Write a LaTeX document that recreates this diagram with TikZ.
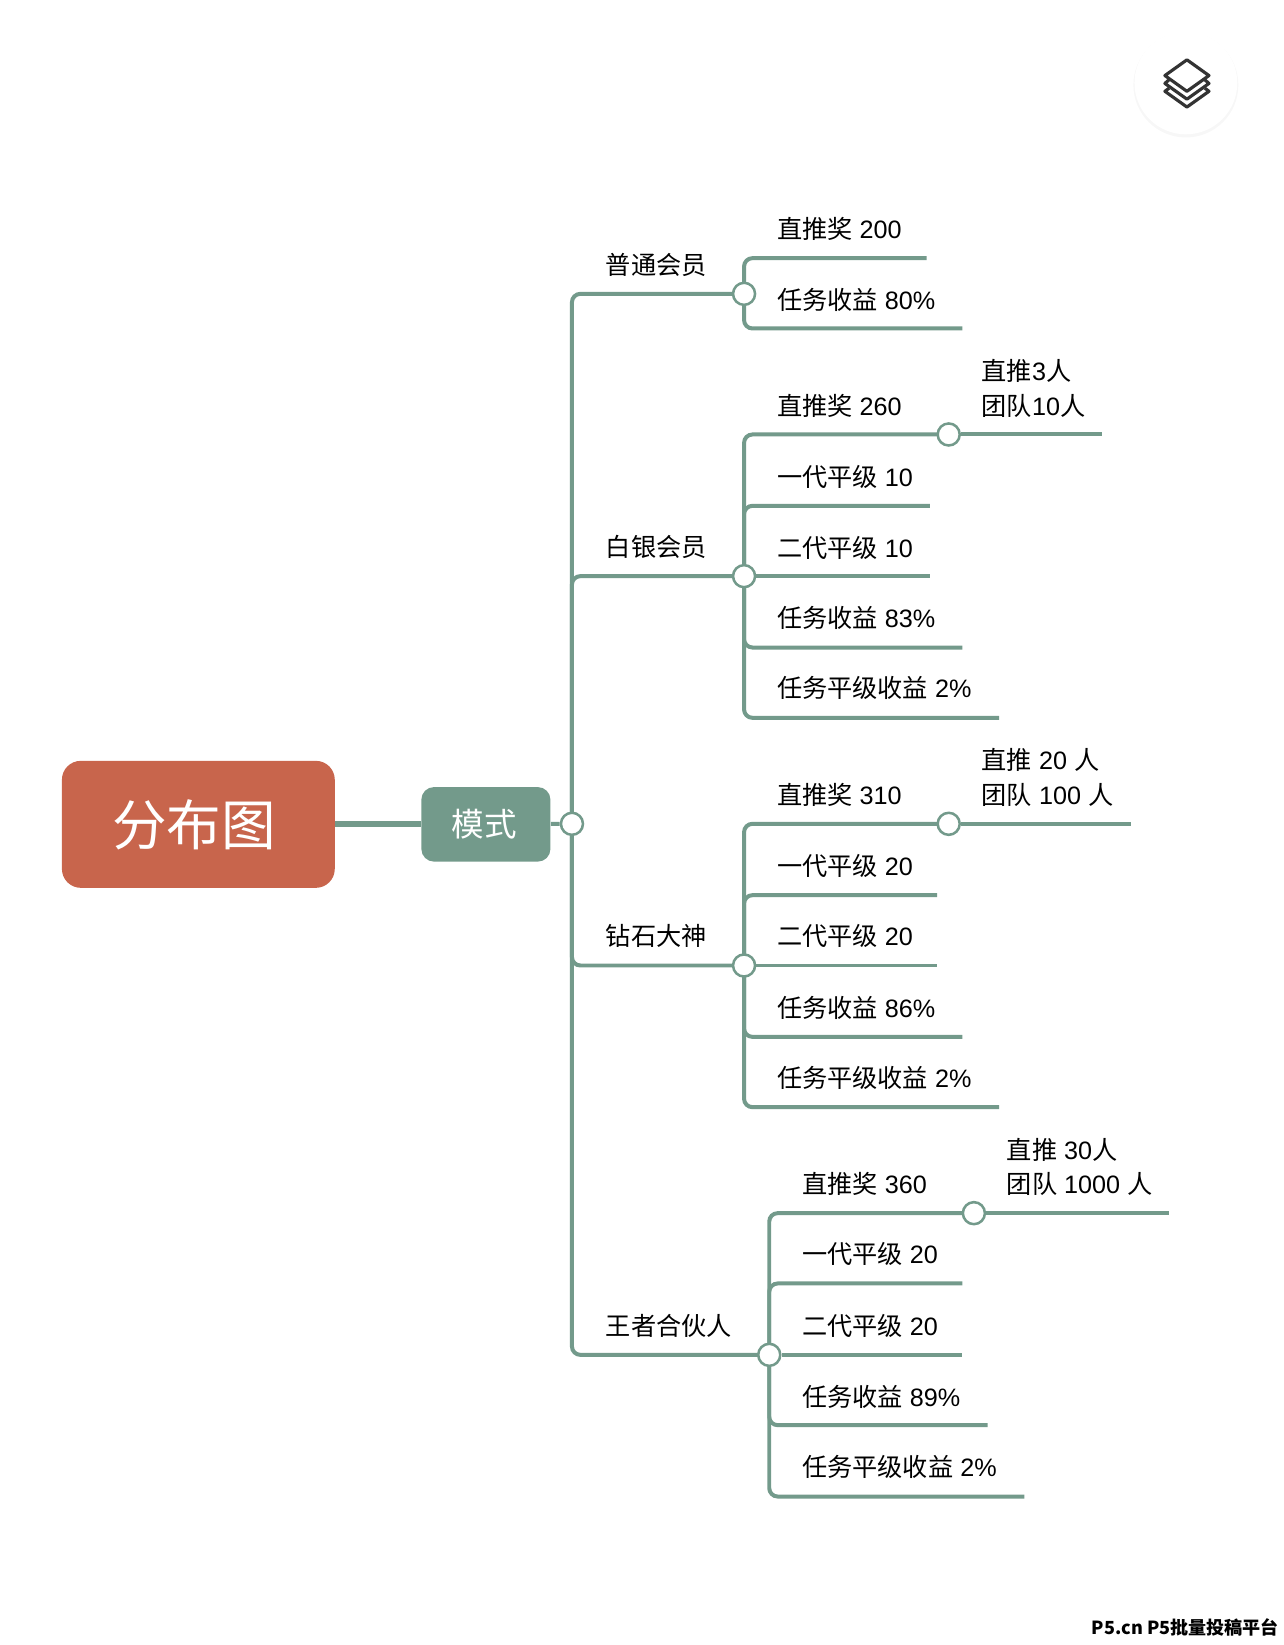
\documentclass[tikz,border=0pt]{standalone}
\usepackage{fontspec}
\setmainfont{Liberation Sans}
\newfontfamily\cjk{Noto Sans CJK SC}
\usetikzlibrary{backgrounds}
\definecolor{linkc}{HTML}{739A8B}
\definecolor{rootc}{HTML}{C8654C}
\newcommand{\cn}[1]{{\cjk #1}}
\tikzset{
 rootbox/.style={fill=rootc,rounded corners=9pt,minimum width=130pt,minimum height=60.5pt,inner sep=0pt,text=white,font=\cjk\fontsize{26}{30}\selectfont},
 modebox/.style={fill=linkc,rounded corners=6pt,minimum width=61.5pt,minimum height=35.5pt,inner sep=0pt,text=white,font=\cjk\fontsize{15.5}{18}\selectfont},
 hub/.style={circle,draw=linkc,line width=1.2pt,fill=white,minimum size=10.5pt,inner sep=0pt},
 link/.style={draw=linkc,line width=1.9pt,rounded corners=4pt},
 thick link/.style={draw=linkc,line width=2.9pt},
 lab/.style={anchor=west,inner sep=0pt,font=\fontsize{12}{14}\selectfont},
 side/.style={anchor=west,inner sep=0pt,align=left,font=\fontsize{12}{16.6}\selectfont},
}
\begin{document}
\begin{tikzpicture}[x=0.5pt,y=-0.5pt]
\useasboundingbox (0,0) rectangle (1223.5,1567.5);
% floating button
\fill[black!3] (1130,81) circle (50);
\fill[white] (1130,79) circle (49);
\draw[line width=1.5pt,black!80,line join=round] (1131,57) -- (1152,72) -- (1131,87) -- (1110,72) -- cycle;
\draw[line width=1.5pt,black!80,line join=round] (1114,76) -- (1110,79.5) -- (1131,94.5) -- (1152,79.5) -- (1148,76);
\draw[line width=1.5pt,black!80,line join=round] (1114,84) -- (1110,87) -- (1131,102) -- (1152,87) -- (1148,84);
% nodes
\node[rootbox] (root) at (189,785.5) {\kern-4pt 分布图};
\node[modebox] (mode) at (463,785.5) {\kern-1.5pt 模式};
\node[hub] (h0) at (545,785) {};
\node[hub] (h1) at (709,280) {};
\node[hub] (h2) at (709,549) {};
\node[hub] (h3) at (709,920) {};
\node[hub] (h4) at (733,1291) {};
\node[hub] (s2) at (904,414) {};
\node[hub] (s3) at (904,785) {};
\node[hub] (s4) at (928,1156) {};
% leaf ends
\coordinate (a1) at (883,246); \coordinate (a2) at (917,313);
\coordinate (b1) at (1050,414); \coordinate (b2) at (886,482); \coordinate (b3) at (886,549); \coordinate (b4) at (917,617); \coordinate (b5) at (952,684);
\coordinate (c1) at (1078,785); \coordinate (c2) at (893,853); \coordinate (c3) at (893,920); \coordinate (c4) at (917,988); \coordinate (c5) at (952,1055);
\coordinate (d1) at (1114,1156); \coordinate (d2) at (917,1223); \coordinate (d3) at (917,1291); \coordinate (d4) at (941,1358); \coordinate (d5) at (976,1426);
% connectors
\begin{pgfonlayer}{background}
\draw[thick link] (root) -- (mode);
\draw[link] (mode) -- (h0);
\foreach \h in {h1,h2,h3,h4} \draw[link] (h0.center) |- (\h.center);
\foreach \e in {a1,a2} \draw[link] (h1.center) |- (\e);
\draw[link] (h2.center) |- (s2.center); \draw[link] (s2) -- (b1);
\foreach \e in {b2,b4,b5} \draw[link] (h2.center) |- (\e);
\draw[link] (h2) -- (b3);
\draw[link] (h3.center) |- (s3.center); \draw[link] (s3) -- (c1);
\foreach \e in {c2,c4,c5} \draw[link] (h3.center) |- (\e);
\draw[link] (h3) -- (c3);
\draw[link] (h4.center) |- (s4.center); \draw[link] (s4) -- (d1);
\foreach \e in {d2,d4,d5} \draw[link] (h4.center) |- (\e);
\draw[link] (h4) -- (d3);
\end{pgfonlayer}
% branch labels
\node[lab] (l1) at (577,252) {\cn{普通会员}};
\node[lab] (l2) at (577,521) {\cn{白银会员}};
\node[lab] (l3) at (577,892) {\cn{钻石大神}};
\node[lab] (l4) at (577,1263) {\cn{王者合伙人}};
% leaf labels
\node[lab] (ta1) at (740,218) {\cn{直推奖} 200};
\node[lab] (ta2) at (740,286) {\cn{任务收益} 80\%};
\node[lab] (tb1) at (740,387) {\cn{直推奖} 260};
\node[lab] (tb2) at (740,454) {\cn{一代平级} 10};
\node[lab] (tb3) at (740,522) {\cn{二代平级} 10};
\node[lab] (tb4) at (740,589) {\cn{任务收益} 83\%};
\node[lab] (tb5) at (740,656) {\cn{任务平级收益} 2\%};
\node[lab] (tc1) at (740,757) {\cn{直推奖} 310};
\node[lab] (tc2) at (740,825) {\cn{一代平级} 20};
\node[lab] (tc3) at (740,892) {\cn{二代平级} 20};
\node[lab] (tc4) at (740,960) {\cn{任务收益} 86\%};
\node[lab] (tc5) at (740,1027) {\cn{任务平级收益} 2\%};
\node[lab] (td1) at (764,1128) {\cn{直推奖} 360};
\node[lab] (td2) at (764,1195) {\cn{一代平级} 20};
\node[lab] (td3) at (764,1263) {\cn{二代平级} 20};
\node[lab] (td4) at (764,1331) {\cn{任务收益} 89\%};
\node[lab] (td5) at (764,1398) {\cn{任务平级收益} 2\%};
\node[side] (sb) at (935,370) {\cn{直推}3\cn{人}\\\cn{团队}10\cn{人}};
\node[side] (sc) at (935,741) {\cn{直推} 20 \cn{人}\\\cn{团队} 100 \cn{人}};
\node[side] (sd) at (959,1112) {\cn{直推} 30\cn{人}\\\cn{团队} 1000 \cn{人}};
% watermark
\node[anchor=east,inner sep=0pt,font=\cjk\bfseries\fontsize{8.6}{10}\selectfont] (wm) at (1219,1551) {P5.cn P5批量投稿平台};
\end{tikzpicture}
\end{document}
